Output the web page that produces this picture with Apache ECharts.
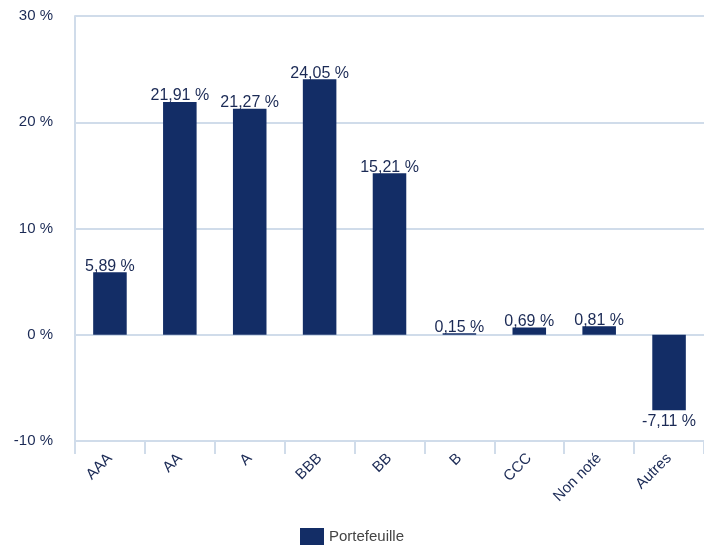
<!DOCTYPE html>
<html lang="fr">
<head>
    <meta charset="UTF-8">
    <title>Portefeuille par notation</title>
    <script src="https://cdn.jsdelivr.net/npm/echarts@6/dist/echarts.min.js"></script>
    <style>
        * { margin: 0; padding: 0; }
        body { background: #fff; }
        #main { width: 704px; height: 545px; }
    </style>
</head>
<body>
    <div id="main"></div>
<script>
    // données
    var categories = ['AAA', 'AA', 'A', 'BBB', 'BB', 'B', 'CCC', 'Non noté', 'Autres'];
    var portefeuille = [5.89, 21.91, 21.27, 24.05, 15.21, 0.15, 0.69, 0.81, -7.11];
    var seriesName = 'Portefeuille';

    var navy = '#132d66';
    var gridColor = '#d0dcea';
    var textColor = '#1b2a55';

    // étiquette négative sous la barre
    var barData = portefeuille.map(function (v) {
        return v < 0 ? { value: v, label: { position: 'bottom', distance: 3 } } : v;
    });

    var myChart = echarts.init(document.getElementById('main'));
    var option = {
        animation: false,
        textStyle: { fontFamily: 'Liberation Sans, Arial, sans-serif' },
        grid: { left: 75, right: 0, top: 16, bottom: 104 },
        legend: {
            top: 523,
            left: 'center',
            icon: 'rect',
            itemWidth: 24,
            itemHeight: 18,
            itemGap: 8,
            textStyle: { fontSize: 15, color: '#444' },
            data: [seriesName]
        },
        xAxis: {
            type: 'category',
            data: categories,
            axisLine: { onZero: false, lineStyle: { color: gridColor, width: 2 } },
            axisTick: { show: true, length: 13, lineStyle: { color: gridColor, width: 2 } },
            axisLabel: { rotate: 45, margin: 15, fontSize: 15, color: textColor }
        },
        yAxis: {
            type: 'value',
            min: -10,
            max: 30,
            interval: 10,
            axisLine: { show: true, lineStyle: { color: gridColor, width: 2 } },
            axisTick: { show: false },
            splitLine: { lineStyle: { color: gridColor, width: 2 } },
            axisLabel: {
                margin: 22,
                fontSize: 15,
                color: textColor,
                padding: [4, 0, 0, 0],
                formatter: function (v) { return v + ' %'; }
            }
        },
        series: [{
            name: seriesName,
            type: 'bar',
            data: barData,
            barWidth: '48%',
            itemStyle: { color: navy },
            label: {
                show: true,
                position: 'top',
                distance: -2,
                fontSize: 16,
                color: textColor,
                formatter: function (p) {
                    return p.value.toFixed(2).replace('.', ',') + ' %';
                }
            }
        }]
    };
    myChart.setOption(option);
</script>
</body>
</html>
